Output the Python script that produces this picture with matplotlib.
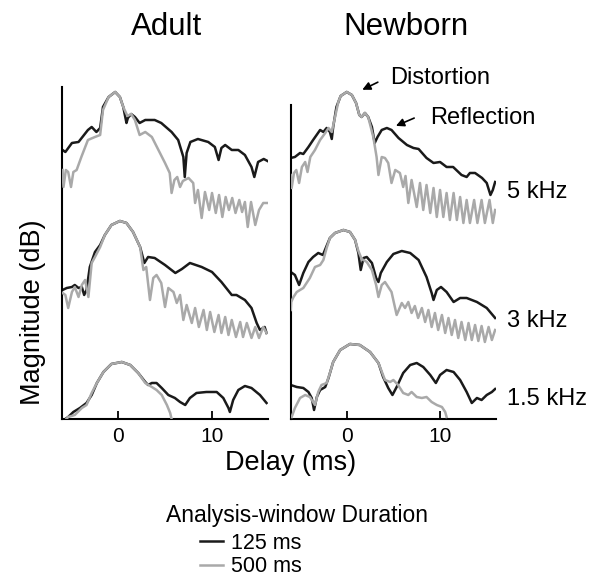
import matplotlib.pyplot as plt

plt.rcParams['font.family'] = ['Liberation Sans', 'DejaVu Sans']

# delay (ms) and magnitude (dB, relative to each band's own baseline)
# adult, 5 kHz
adult_5k_t_125 = [-5.9, -5.6, -4.9, -4.2, -3.2, -2.8, -2.3, -1.9, -1.6, -1.0,
                  -0.3, 0.2, 0.56, 0.9, 1.05, 1.4, 1.8, 2.3, 2.9, 3.9,
                  4.6, 5.7, 6.4, 6.95, 7.1, 7.3, 7.7, 8.5, 9.6, 10.3,
                  10.7, 11.0, 11.4, 12.1, 12.8, 13.5, 14.2, 14.5, 14.9, 15.5, 15.9]
adult_5k_m_125 = [69, 67, 76, 77, 89, 92, 87, 91, 112, 122,
                  127, 122, 112, 96, 101, 105, 102, 96, 99, 99,
                  96, 87, 79, 62, 42, 66, 77, 80, 77, 72,
                  59, 71, 74, 69, 69, 64, 52, 42, 57, 60, 58]
adult_5k_t_500 = [-5.9, -5.8, -5.55, -5.3, -5.0, -4.75, -4.4, -3.9, -3.2, -2.45,
                  -1.9, -1.6, -1.0, -0.3, 0.2, 0.56, 1.0, 1.4, 1.8, 2.3,
                  2.9, 3.6, 4.3, 5.0, 5.5, 5.7, 6.0, 6.3, 6.6, 6.9,
                  7.5, 8.0, 8.2, 8.5, 8.9, 9.25, 9.7, 10.0, 10.4, 10.75,
                  11.1, 11.45, 11.8, 12.15, 12.5, 12.9, 13.2, 13.5, 13.8, 14.15,
                  14.6, 15.0, 15.45, 15.9]
adult_5k_m_500 = [49, 32, 49, 47, 32, 47, 49, 62, 79, 82,
                  84, 109, 122, 127, 122, 112, 103, 105, 99, 84,
                  87, 82, 69, 56, 46, 26, 39, 42, 32, 38,
                  41, 36, 16, 29, 1, 27, 9, 26, 6, 24,
                  2, 22, 9, 21, 6, 19, 7, 17, -8, 17,
                  -6, 9, 16, 16]

# adult, 3 kHz
adult_3k_t_125 = [-5.9, -5.45, -4.9, -4.6, -4.2, -3.85, -3.6, -3.35, -3.0, -2.45,
                  -1.9, -1.4, -0.7, 0.2, 0.9, 1.6, 2.35, 2.8, 3.2, 3.9,
                  5.0, 6.1, 6.8, 7.65, 8.9, 10.0, 11.0, 12.1, 12.6, 13.5,
                  14.2, 14.75, 15.1, 15.6, 15.8]
adult_3k_m_125 = [49, 51, 52, 54, 51, 52, 44, 49, 72, 87,
                  94, 104, 114, 118, 116, 107, 92, 76, 82, 81,
                  74, 66, 70, 76, 72, 67, 57, 44, 44, 39,
                  31, 16, 9, 12, 6]
adult_3k_t_500 = [-5.9, -5.6, -5.3, -4.9, -4.6, -4.2, -3.85, -3.5, -3.15, -2.8,
                  -2.45, -1.9, -1.4, -0.7, 0.2, 0.9, 1.6, 2.35, 2.7, 3.0,
                  3.4, 3.75, 4.1, 4.6, 5.0, 5.35, 5.9, 6.25, 6.6, 6.95,
                  7.3, 7.85, 8.2, 8.6, 9.1, 9.45, 9.8, 10.25, 10.7, 11.0,
                  11.4, 11.75, 12.1, 12.55, 13.0, 13.3, 13.7, 14.2, 14.6, 15.0,
                  15.45, 15.8]
adult_3k_m_500 = [46, 44, 31, 47, 52, 42, 54, 59, 42, 76,
                  82, 92, 104, 114, 118, 116, 107, 92, 69, 72,
                  39, 61, 64, 56, 32, 51, 47, 36, 44, 19,
                  34, 16, 31, 12, 29, 9, 27, 7, 24, 6,
                  22, 4, 19, 2, 17, 2, 16, 1, 12, 1,
                  12, 6]

# adult, 1.5 kHz
adult_15k_t_125 = [-5.6, -5.3, -4.75, -4.05, -3.35, -2.8, -2.25, -1.55, -0.7, 0.4,
                   1.3, 2.15, 2.9, 3.2, 3.6, 4.1, 4.65, 5.35, 6.05, 6.6,
                   7.15, 7.65, 8.35, 9.4, 10.5, 11.2, 11.75, 11.9, 12.25, 12.8,
                   13.5, 14.2, 15.1, 15.8]
adult_15k_m_125 = [0, 2, 7, 11, 16, 24, 36, 47, 55, 57,
                   54, 46, 37, 34, 36, 36, 31, 24, 21, 17,
                   14, 21, 26, 27, 27, 21, 11, 7, 19, 29,
                   33, 31, 24, 16]
adult_15k_t_500 = [-5.5, -5.3, -4.6, -3.85, -3.35, -2.8, -2.25, -1.55, -0.7, 0.4,
                   1.3, 2.15, 2.9, 3.6, 4.1, 4.65, 5.2, 5.55, 5.7]
adult_15k_m_500 = [0, 2, 4, 11, 14, 26, 36, 47, 55, 57,
                   54, 46, 36, 32, 29, 24, 14, 6, 0]

# newborn, 5 kHz
newborn_5k_t_125 = [-6.0, -5.55, -5.0, -4.65, -4.1, -3.6, -2.85, -2.5, -2.15, -1.8,
                    -1.6, -1.45, -1.1, -0.65, 0.0, 0.55, 1.0, 1.35, 1.6, 1.95,
                    2.3, 2.7, 3.0, 3.3, 3.75, 4.3, 4.8, 5.55, 6.45, 7.15,
                    7.7, 8.55, 9.3, 10.0, 10.7, 11.4, 12.3, 12.85, 13.2, 13.75,
                    14.5, 15.0, 15.4, 15.65, 15.9]
newborn_5k_m_125 = [61, 62, 66, 65, 72, 79, 89, 87, 91, 87,
                    80, 92, 112, 123, 127, 124, 116, 104, 102, 106,
                    102, 92, 76, 82, 89, 91, 89, 81, 74, 71,
                    70, 61, 56, 57, 52, 52, 44, 42, 46, 46,
                    41, 36, 24, 29, 37]
newborn_5k_t_500 = [-6.0, -5.9, -5.65, -5.4, -5.1, -4.8, -4.45, -4.2, -3.9, -3.4,
                    -2.85, -2.3, -1.95, -1.6, -1.25, -0.9, -0.65, 0.0, 0.55, 1.0,
                    1.35, 1.6, 1.95, 2.3, 2.85, 3.2, 3.4, 3.75, 4.1, 4.45,
                    4.8, 5.2, 5.7, 6.05, 6.3, 6.6, 6.95, 7.5, 7.85, 8.2,
                    8.55, 8.95, 9.3, 9.65, 10.0, 10.35, 10.7, 11.05, 11.45, 11.8,
                    12.15, 12.5, 12.85, 13.2, 13.65, 14.0, 14.45, 14.8, 15.3, 15.65,
                    15.9]
newborn_5k_m_500 = [44, 31, 46, 49, 36, 52, 57, 47, 62, 69,
                    79, 86, 91, 87, 102, 117, 123, 127, 124, 116,
                    104, 102, 106, 102, 82, 62, 44, 62, 61, 56,
                    36, 49, 46, 32, 43, 16, 39, 12, 36, 9,
                    34, 6, 31, 2, 29, 2, 26, -1, 26, -1,
                    22, -4, 19, -4, 19, -4, 19, -4, 19, -4,
                    9]

# newborn, 3 kHz
newborn_3k_t_125 = [-6.0, -5.55, -5.1, -4.65, -4.1, -3.6, -3.05, -2.55, -2.2, -1.8,
                    -1.25, -0.35, 0.35, 0.9, 1.25, 1.5, 1.8, 2.15, 2.7, 3.15,
                    3.4, 3.65, 4.3, 5.0, 5.9, 6.8, 7.7, 8.55, 9.1, 9.3,
                    9.65, 10.1, 10.7, 11.45, 12.15, 12.85, 13.95, 15.0, 15.9]
newborn_3k_m_125 = [67, 64, 54, 66, 77, 82, 86, 84, 92, 101,
                    106, 109, 107, 99, 86, 69, 81, 82, 76, 61,
                    57, 66, 77, 85, 88, 86, 79, 62, 46, 39,
                    49, 52, 47, 37, 41, 41, 37, 31, 21]
newborn_3k_t_500 = [-6.0, -5.95, -5.7, -5.35, -5.0, -4.65, -4.3, -3.95, -3.4, -2.85,
                    -2.5, -2.15, -1.8, -1.25, -0.35, 0.35, 0.9, 1.25, 1.6, 2.15,
                    2.7, 3.15, 3.4, 3.75, 4.1, 4.45, 4.8, 5.35, 5.9, 6.25,
                    6.6, 6.95, 7.3, 7.65, 8.05, 8.4, 8.75, 9.1, 9.45, 9.8,
                    10.2, 10.55, 10.9, 11.25, 11.6, 11.95, 12.3, 12.7, 13.05, 13.4,
                    13.75, 14.1, 14.45, 14.8, 15.2, 15.55, 15.9]
newborn_3k_m_500 = [29, 37, 42, 47, 49, 51, 56, 61, 72, 74,
                    79, 91, 101, 106, 109, 107, 99, 88, 80, 77,
                    69, 54, 42, 54, 57, 52, 47, 24, 36, 31,
                    37, 26, 33, 21, 31, 17, 29, 12, 26, 9,
                    24, 6, 21, 4, 19, 1, 17, -1, 16, -1,
                    14, -2, 13, -3, 12, -1, 9]

# newborn, 1.5 kHz
newborn_15k_t_125 = [-6.0, -5.35, -4.65, -4.1, -3.75, -3.5, -3.2, -2.85, -2.3, -1.95,
                     -1.45, -0.7, 0.35, 1.4, 2.5, 3.4, 3.9, 4.45, 4.9, 5.35,
                     6.05, 6.8, 7.5, 8.2, 8.95, 9.55, 10.0, 10.7, 11.45, 12.15,
                     12.85, 13.4, 13.95, 14.45, 15.0, 15.55, 15.9]
newborn_15k_m_125 = [34, 32, 31, 27, 21, 9, 22, 29, 32, 41,
                     57, 69, 75, 74, 67, 56, 42, 31, 24, 32,
                     46, 54, 56, 52, 44, 36, 44, 49, 47, 39,
                     27, 16, 21, 19, 24, 27, 30]
newborn_15k_t_500 = [-5.9, -5.55, -5.0, -4.45, -3.95, -3.6, -3.4, -3.05, -2.7, -2.15,
                     -1.8, -1.45, -0.7, 0.35, 1.4, 2.5, 3.4, 4.1, 4.65, 5.0,
                     5.5, 6.05, 6.6, 6.95, 7.5, 8.05, 8.55, 9.1, 9.65, 10.2,
                     10.55, 10.7]
newborn_15k_m_500 = [2, 11, 21, 24, 22, 17, 14, 27, 34, 36,
                     46, 57, 69, 75, 74, 67, 56, 39, 37, 39,
                     34, 26, 24, 27, 22, 21, 22, 17, 14, 12,
                     7, 2]

bands = ['5 kHz', '3 kHz', '1.5 kHz']
band_offset = {'5 kHz': 200, '3 kHz': 80, '1.5 kHz': 0}   # vertical stacking

adult = {
    '5 kHz': (adult_5k_t_125, adult_5k_m_125, adult_5k_t_500, adult_5k_m_500),
    '3 kHz': (adult_3k_t_125, adult_3k_m_125, adult_3k_t_500, adult_3k_m_500),
    '1.5 kHz': (adult_15k_t_125, adult_15k_m_125, adult_15k_t_500, adult_15k_m_500),
}
newborn = {
    '5 kHz': (newborn_5k_t_125, newborn_5k_m_125, newborn_5k_t_500, newborn_5k_m_500),
    '3 kHz': (newborn_3k_t_125, newborn_3k_m_125, newborn_3k_t_500, newborn_3k_m_500),
    '1.5 kHz': (newborn_15k_t_125, newborn_15k_m_125, newborn_15k_t_500, newborn_15k_m_500),
}

BLACK = '#1a1a1a'
GRAY = '#a9a9a9'

fig = plt.figure(figsize=(6.04, 5.8), dpi=100)
ax_a = fig.add_axes([0.102, 0.2776, 0.3424, 0.5845])
ax_n = fig.add_axes([0.4813, 0.2776, 0.340, 0.5845])


def draw_panel(ax, traces, spine_top):
    for band in bands:
        t1, m1, t2, m2 = traces[band]
        off = band_offset[band]
        l1, = ax.plot(t1, [v + off for v in m1], color=BLACK, lw=1.8,
                      solid_joinstyle='round', zorder=2)
        l2, = ax.plot(t2, [v + off for v in m2], color=GRAY, lw=1.8,
                      solid_joinstyle='round', zorder=3)
    ax.set_xlim(-6, 16)
    ax.set_ylim(0, 339)
    ax.spines['top'].set_visible(False)
    ax.spines['right'].set_visible(False)
    ax.spines['left'].set_bounds(0, spine_top)
    for s in ('left', 'bottom'):
        ax.spines[s].set_linewidth(1.5)
    ax.set_yticks([])
    ax.set_xticks([0, 10])
    ax.tick_params(axis='x', direction='in', length=6, width=1.3,
                   labelsize=15, pad=6)
    return l1, l2


h125, h500 = draw_panel(ax_a, adult, 332)
draw_panel(ax_n, newborn, 314)

# annotations on the newborn 5 kHz trace
ax_n.annotate('', xy=(1.4, 328), xytext=(3.6, 338),
              arrowprops=dict(arrowstyle='-|>', color='black', lw=1.2,
                              mutation_scale=12), annotation_clip=False)
ax_n.text(4.6, 341, 'Distortion', fontsize=17, va='center', ha='left',
          clip_on=False)
ax_n.annotate('', xy=(5.0, 292), xytext=(7.5, 302),
              arrowprops=dict(arrowstyle='-|>', color='black', lw=1.2,
                              mutation_scale=12), annotation_clip=False)
ax_n.text(8.9, 301, 'Reflection', fontsize=17, va='center', ha='left',
          clip_on=False)

# band labels at the right of the newborn panel
W, H = 604, 580
for band, ybase in zip(bands, [198, 327, 405]):
    fig.text(507 / W, 1 - ybase / H, band, fontsize=17, va='baseline')

fig.text(167 / W, 1 - 35 / H, 'Adult', fontsize=22.5, ha='center', va='baseline')
fig.text(406 / W, 1 - 35 / H, 'Newborn', fontsize=22.5, ha='center', va='baseline')
fig.text(33 / W, 268 / H, 'Magnitude (dB)', fontsize=19.5, rotation=90,
         ha='center', va='center')
fig.text(291 / W, 1 - 470 / H, 'Delay (ms)', fontsize=19.5, ha='center',
         va='baseline')

fig.text(297 / W, 1 - 522 / H, 'Analysis-window Duration', fontsize=16.5,
         ha='center', va='baseline')
fig.legend([h125, h500], ['125 ms', '500 ms'], loc='upper left',
           bbox_to_anchor=(200 / W, 1 - 533 / H), frameon=False, fontsize=15.5,
           handlelength=1.05, handletextpad=0.4, labelspacing=0.1,
           borderpad=0, borderaxespad=0)

fig.savefig('out.png', dpi=100)
